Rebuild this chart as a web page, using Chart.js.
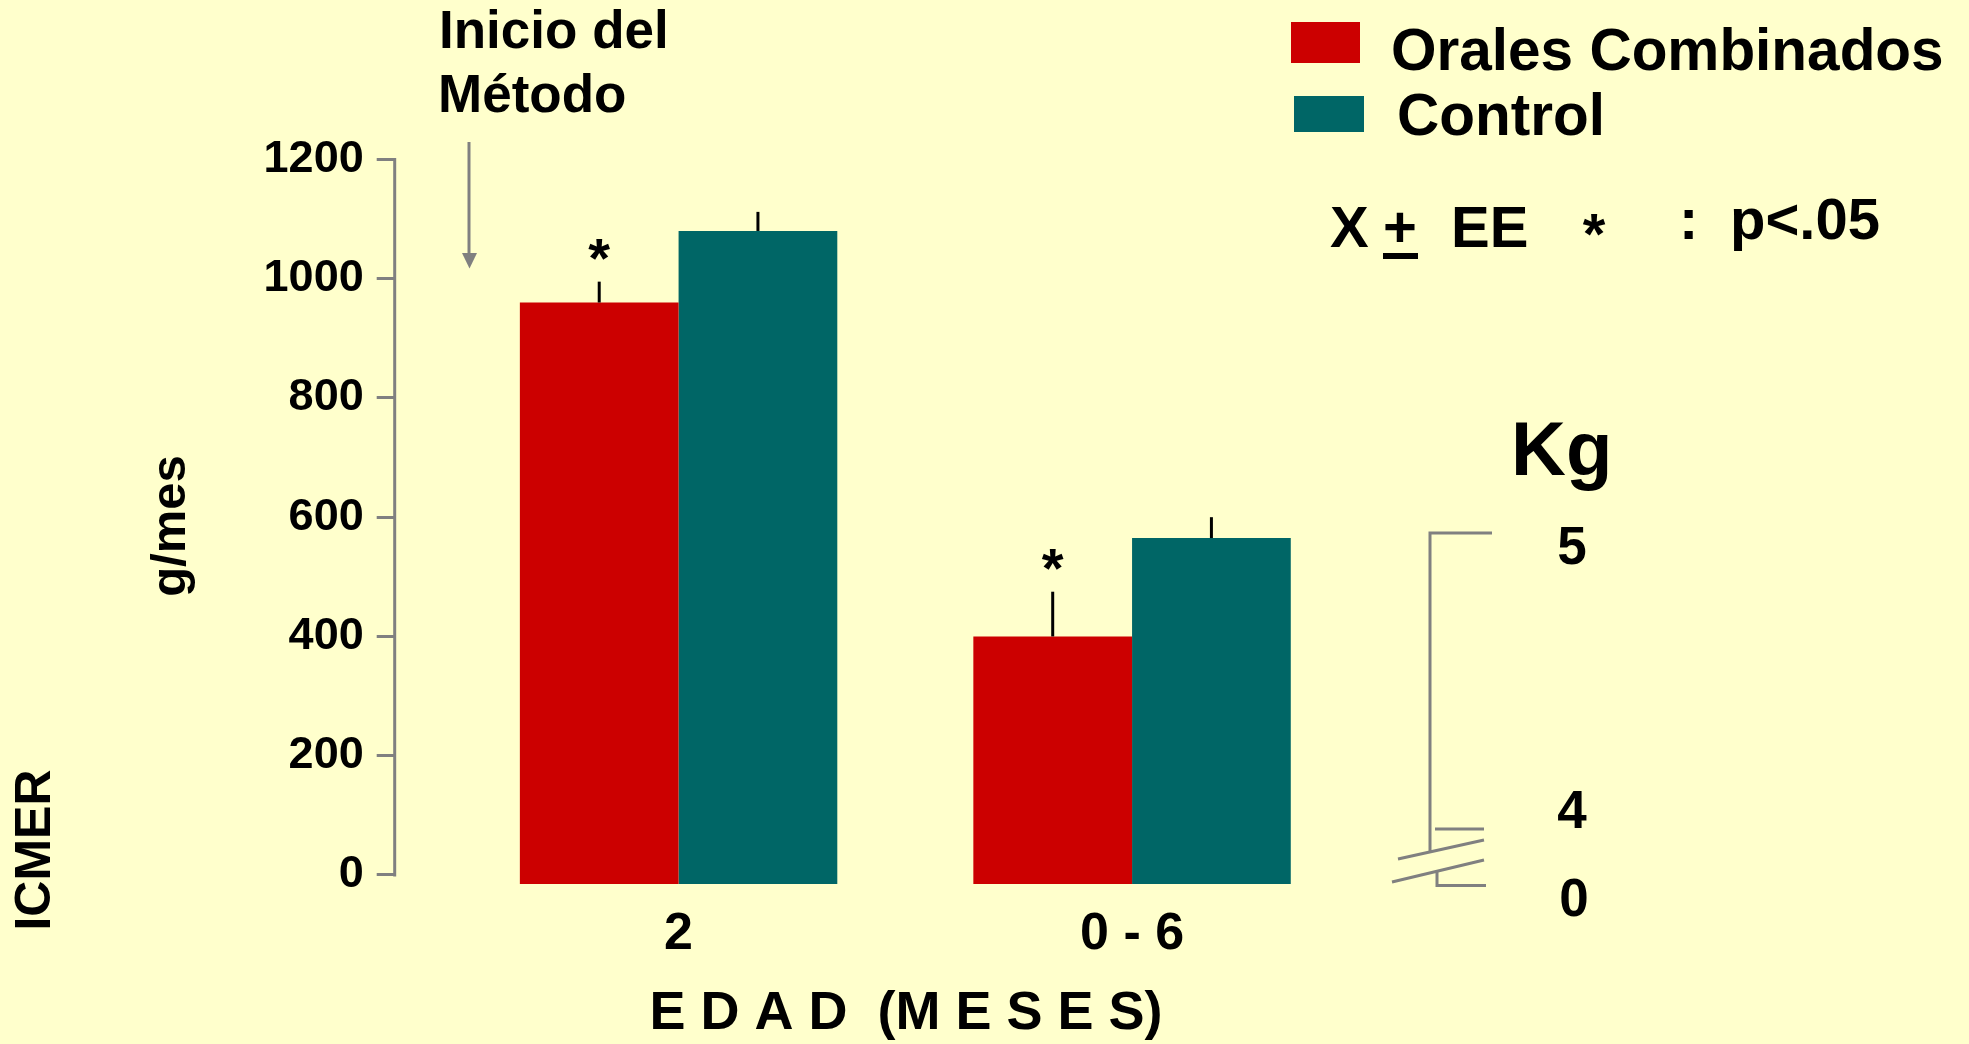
<!DOCTYPE html>
<html lang="es">
<head>
<meta charset="utf-8">
<title>ICMER – Orales Combinados vs Control</title>
<script src="https://cdn.jsdelivr.net/npm/chart.js@4.4.1/dist/chart.umd.min.js"></script>
<style>
  html, body { margin: 0; padding: 0; background: #FFFFCC; overflow: hidden; }
  canvas { display: block; }
</style>
</head>
<body>
<canvas id="c" width="1969" height="1044"></canvas>
<script>
// ---- data ----
const categories = ['2', '0 - 6'];
const seriesNames = ['Orales Combinados', 'Control'];
const oralesValues = [960, 400];
const oralesErrors = [35, 75];
const controlValues = [1080, 565];
const controlErrors = [32, 35];
const oralesSignificant = [true, true];
const yTickValues = [0, 200, 400, 600, 800, 1000, 1200];
const kgTickLabels = ['5', '4', '0'];

// ---- styling ----
const FONT = '"Liberation Sans", Arial, Helvetica, sans-serif';
const RED = '#CC0000';
const TEAL = '#006666';
const GREY = '#808080';
const BG = '#FFFFCC';

Chart.defaults.font.family = FONT;
Chart.defaults.color = '#000';

const errorSets = [oralesErrors, controlErrors];
const starSets = [oralesSignificant, null];

function bold(size) { return 'bold ' + size + 'px ' + FONT; }

// bars placed at category index positions on a numeric axis
const toPoints = values => values.map((v, i) => ({ x: i, y: v }));

const decorations = {
  id: 'decorations',
  beforeDraw(chart) {
    const ctx = chart.ctx;
    ctx.save();
    ctx.fillStyle = BG;
    ctx.fillRect(0, 0, chart.width, chart.height);
    ctx.restore();
  },
  afterDraw(chart) {
    const ctx = chart.ctx;
    const y = chart.scales.y;
    ctx.save();

    // value axis line, spanning 0 to 1200 only
    const axisX = chart.chartArea.left;
    ctx.strokeStyle = GREY;
    ctx.lineWidth = 3;
    ctx.beginPath();
    ctx.moveTo(axisX, y.getPixelForValue(yTickValues[0]) + 1.5);
    ctx.lineTo(axisX, y.getPixelForValue(yTickValues[yTickValues.length - 1]) - 1.5);
    ctx.stroke();

    // error bars (upper whisker) and significance stars
    chart.data.datasets.forEach((ds, di) => {
      const meta = chart.getDatasetMeta(di);
      meta.data.forEach((bar, j) => {
        const v = ds.data[j].y;
        const top = y.getPixelForValue(v + errorSets[di][j]);
        ctx.strokeStyle = '#000';
        ctx.lineWidth = 3;
        ctx.beginPath();
        ctx.moveTo(bar.x, y.getPixelForValue(v));
        ctx.lineTo(bar.x, top);
        ctx.stroke();
        if (starSets[di] && starSets[di][j]) {
          ctx.fillStyle = '#000';
          ctx.font = bold(56);
          ctx.textAlign = 'center';
          ctx.textBaseline = 'alphabetic';
          ctx.fillText('*', bar.x, top - 5);
        }
      });
    });

    // "Inicio del Método" marker
    ctx.fillStyle = '#000';
    ctx.font = bold(53);
    ctx.textAlign = 'left';
    ctx.textBaseline = 'alphabetic';
    ctx.fillText('Inicio del', 439, 48);
    ctx.fillText('Método', 438, 112);
    ctx.strokeStyle = GREY;
    ctx.fillStyle = GREY;
    ctx.lineWidth = 3;
    ctx.beginPath();
    ctx.moveTo(469, 142);
    ctx.lineTo(469, 256);
    ctx.stroke();
    ctx.beginPath();
    ctx.moveTo(462, 253);
    ctx.lineTo(477, 253);
    ctx.lineTo(469.5, 268.5);
    ctx.closePath();
    ctx.fill();

    // axis titles
    ctx.fillStyle = '#000';
    ctx.textAlign = 'center';
    ctx.textBaseline = 'alphabetic';
    ctx.save();
    ctx.translate(185, 526);
    ctx.rotate(-Math.PI / 2);
    ctx.font = bold(49);
    ctx.fillText('g/mes', 0, 0);
    ctx.restore();
    ctx.save();
    ctx.translate(50, 850);
    ctx.rotate(-Math.PI / 2);
    ctx.font = bold(50);
    ctx.fillText('ICMER', 0, 0);
    ctx.restore();

    // legend
    const colors = chart.data.datasets.map(d => d.backgroundColor);
    ctx.fillStyle = colors[0];
    ctx.fillRect(1291, 22, 69, 41);
    ctx.fillStyle = colors[1];
    ctx.fillRect(1294, 96, 70, 36);
    ctx.fillStyle = '#000';
    ctx.font = bold(58.5);
    ctx.textAlign = 'left';
    ctx.fillText(chart.data.datasets[0].label, 1391, 70);
    ctx.fillText(chart.data.datasets[1].label, 1397, 135);

    // statistics note
    ctx.font = bold(58);
    ctx.fillText('X', 1330, 247);
    ctx.fillText('+', 1383, 247);
    ctx.fillRect(1383, 253, 35, 6);
    ctx.fillText('EE', 1451, 247);
    ctx.textAlign = 'center';
    ctx.fillText('*', 1594, 254);
    ctx.textAlign = 'left';
    ctx.fillText(':', 1679, 239);
    ctx.fillText('p<.05', 1730, 239);

    // Kg reference axis with break
    ctx.font = bold(76);
    ctx.fillText('Kg', 1511, 475);
    ctx.font = bold(53);
    ctx.textAlign = 'center';
    ctx.fillText(kgTickLabels[0], 1572, 564);
    ctx.fillText(kgTickLabels[1], 1572, 828);
    ctx.fillText(kgTickLabels[2], 1574, 916);

    ctx.strokeStyle = GREY;
    ctx.lineWidth = 3;
    ctx.beginPath();
    ctx.moveTo(1492, 533); ctx.lineTo(1430, 533); ctx.lineTo(1430, 852);
    ctx.moveTo(1435, 829); ctx.lineTo(1484, 829);
    ctx.moveTo(1398, 859); ctx.lineTo(1484, 840);
    ctx.moveTo(1392, 882); ctx.lineTo(1484, 860);
    ctx.moveTo(1437, 872); ctx.lineTo(1437, 885.5); ctx.lineTo(1486, 885.5);
    ctx.stroke();

    ctx.restore();
  }
};

new Chart(document.getElementById('c'), {
  type: 'bar',
  data: {
    datasets: [
      { label: seriesNames[0], data: toPoints(oralesValues), backgroundColor: RED, base: -15,
        borderWidth: 0, barPercentage: 1.0, categoryPercentage: 0.70 },
      { label: seriesNames[1], data: toPoints(controlValues), backgroundColor: TEAL, base: -15,
        borderWidth: 0, barPercentage: 1.0, categoryPercentage: 0.70 }
    ]
  },
  options: {
    responsive: false,
    animation: false,
    devicePixelRatio: 1,
    layout: { padding: { left: 250, right: 551.7, top: 159.4, bottom: 0 } },
    plugins: { legend: { display: false }, tooltip: { enabled: false } },
    scales: {
      x: {
        type: 'linear',
        offset: false,
        min: -0.626,
        max: 1.629,
        afterBuildTicks(scale) { scale.ticks = categories.map((c, i) => ({ value: i })); },
        grid: { display: false },
        border: { display: false },
        ticks: {
          font: { size: 52, weight: 'bold' }, color: '#000', padding: 12,
          callback: v => categories[v]
        },
        title: {
          display: true,
          text: 'E D A D  (M E S E S)',
          font: { size: 54, weight: 'bold', lineHeight: 1.1 },
          color: '#000',
          padding: { top: 0, bottom: 0 }
        },
        afterFit(scale) { scale.height = 1044 - 883.9; }
      },
      y: {
        position: 'left',
        min: -15,
        max: 1200,
        afterBuildTicks(scale) { scale.ticks = yTickValues.map(v => ({ value: v })); },
        afterFit(scale) { scale.width = 144.7; },
        grid: { drawOnChartArea: false, drawTicks: true, tickLength: 18, color: GREY, lineWidth: 3 },
        border: { display: false },
        ticks: {
          font: { size: 45, weight: 'bold' }, color: '#000', padding: 13,
          callback: v => String(v)
        }
      }
    }
  },
  plugins: [decorations]
});
</script>
</body>
</html>
